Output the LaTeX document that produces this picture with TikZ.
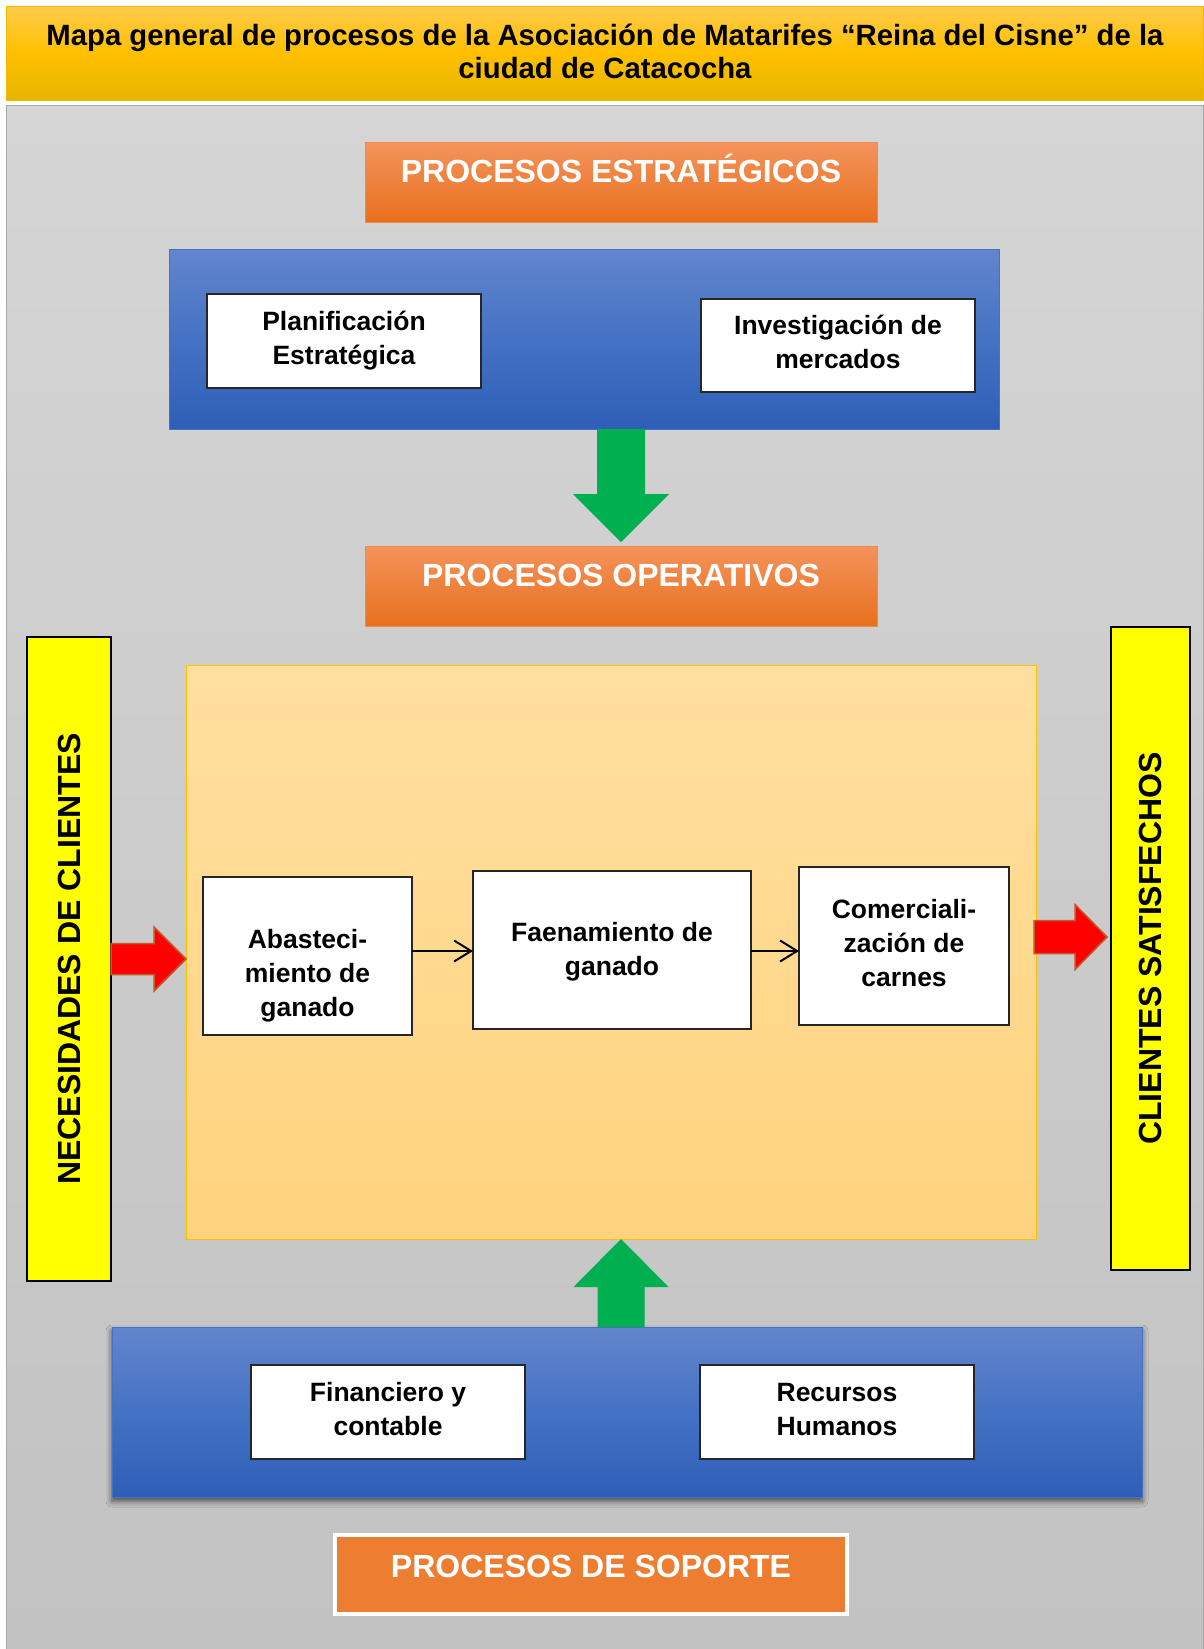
\documentclass[tikz,border=0pt]{standalone}
\usepackage{fontspec}
\setmainfont{Liberation Sans}
\usetikzlibrary{arrows.meta,calc,shadows.blur}

\definecolor{goldTop}{HTML}{FFCB4C}
\definecolor{goldMid}{HTML}{FFC000}
\definecolor{goldBot}{HTML}{E6B500}
\definecolor{goldLine}{HTML}{F2B800}
\definecolor{grayTop}{HTML}{D5D5D5}
\definecolor{grayBot}{HTML}{C2C2C2}
\definecolor{grayLine}{HTML}{A9A9A9}
\definecolor{orgTop}{HTML}{F4935C}
\definecolor{orgBot}{HTML}{E8701E}
\definecolor{orgLine}{HTML}{F08A4B}
\definecolor{orgFlat}{HTML}{ED7D31}
\definecolor{bluTop}{HTML}{6385CD}
\definecolor{bluMid}{HTML}{4472C4}
\definecolor{bluBot}{HTML}{2E5EB7}
\definecolor{opTop}{HTML}{FFDFA0}
\definecolor{opBot}{HTML}{FFD37E}
\definecolor{opLine}{HTML}{FFC000}
\definecolor{barYellow}{HTML}{FFFF00}
\definecolor{arrGreen}{HTML}{00B050}
\definecolor{arrRed}{HTML}{FF0000}
\definecolor{arrRedLine}{HTML}{C0592B}
\definecolor{boxLine}{HTML}{262626}

\begin{document}
\begin{tikzpicture}[x=1pt,y=-1pt,
  titleband/.style={anchor=north west, inner sep=0pt, outer sep=0pt,
    top color=goldTop, bottom color=goldBot, middle color=goldMid,
    draw=goldLine, line width=0.8pt},
  titletext/.style={font=\fontsize{29.3}{33}\selectfont\bfseries, align=center,
    inner sep=0pt},
  backpanel/.style={anchor=north west, inner sep=0pt, outer sep=0pt,
    top color=grayTop, bottom color=grayBot, draw=grayLine, line width=1pt},
  headerbox/.style={anchor=north west, inner sep=0pt, outer sep=0pt,
    top color=orgTop, bottom color=orgBot, draw=orgLine, line width=1pt},
  headertext/.style={text=white, font=\fontsize{32}{36}\selectfont\bfseries,
    inner sep=0pt, anchor=base},
  bluepanel/.style={anchor=north west, inner sep=0pt, outer sep=0pt,
    top color=bluTop, bottom color=bluBot, middle color=bluMid,
    draw=bluMid, line width=0.8pt},
  whitebox/.style={anchor=north west, inner sep=0pt, outer sep=0pt,
    fill=white, draw=boxLine, line width=1.3pt},
  boxtext/.style={font=\fontsize{26.5}{34}\selectfont\bfseries, align=center,
    inner sep=0pt},
  sidebar/.style={anchor=north west, inner sep=0pt, outer sep=0pt,
    fill=barYellow, draw=black, line width=1.2pt},
  sidetext/.style={rotate=90, font=\fontsize{32}{36}\selectfont\bfseries,
    inner sep=0pt},
  opzone/.style={anchor=north west, inner sep=0pt, outer sep=0pt,
    top color=opTop, bottom color=opBot, draw=opLine, line width=1pt},
  flow/.style={line width=1.7pt, -{Straight Barb[length=17pt,width=21pt,line width=2pt]}},
  greenarrow/.style={fill=arrGreen},
  redarrow/.style={fill=arrRed, draw=arrRedLine, line width=1.5pt, line join=miter}
]
\useasboundingbox (0,0) rectangle (1203,1649);
\fill[white] (0,0) rectangle (1203,1649);

% title band and grey panel
\node[titleband, minimum width=1197, minimum height=94] (title) at (6,6) {};
\node[titletext] (titletxt) at (605,51)
  {Mapa general de procesos de la Asociación de Matarifes “Reina del Cisne” de la\\ciudad de Catacocha};
\node[backpanel, minimum width=1197, minimum height=1545] (bg) at (6,105) {};

% strategic processes
\node[headerbox, minimum width=512, minimum height=80] (hdrS) at (365,142) {};
\node[headertext] (hdrStxt) at ($(hdrS.north)+(0,40)$) {PROCESOS ESTRATÉGICOS};
\node[bluepanel, minimum width=830, minimum height=180] (strat) at (169,249) {};
\node[whitebox, minimum width=274, minimum height=94] (plan) at (207,294) {};
\node[boxtext] (plantxt) at (plan.center) {Planificación\\Estratégica};
\node[whitebox, minimum width=274, minimum height=93] (inv) at (701,299) {};
\node[boxtext] (invtxt) at ($(inv.center)+(0,-4)$) {Investigación de\\mercados};

% operative processes
\node[headerbox, minimum width=512, minimum height=80] (hdrO) at (365,546) {};
\node[headertext] (hdrOtxt) at ($(hdrO.north)+(0,40)$) {PROCESOS OPERATIVOS};

% arrow from strategic to operative
\coordinate (gdS) at (strat.south -| hdrO.north);
\coordinate (gdT) at ($(hdrO.north)+(0,-4)$);
\fill[greenarrow] ($(gdS)+(-24,0)$) -- ($(gdS)+(24,0)$) -- ($(gdT)+(24,-48)$)
  -- ($(gdT)+(48,-48)$) -- (gdT) -- ($(gdT)+(-48,-48)$) -- ($(gdT)+(-24,-48)$) -- cycle;

\node[sidebar, minimum width=84, minimum height=644] (needs) at (27,637) {};
\node[sidetext] (needstxt) at (needs.center) {NECESIDADES DE CLIENTES};
\node[sidebar, minimum width=79, minimum height=643] (satisf) at (1111,627) {};
\node[sidetext] (satisftxt) at (satisf.center) {CLIENTES SATISFECHOS};

\node[opzone, minimum width=850, minimum height=574] (opbox) at (186,665) {};

\node[whitebox, minimum width=209, minimum height=158] (abas) at (203,877) {};
\node[boxtext] (abastxt) at ($(abas.center)+(0,20)$) {Abasteci-\\miento de\\ganado};
\node[whitebox, minimum width=278, minimum height=158] (faen) at (473,871) {};
\node[boxtext] (faentxt) at ($(faen.center)+(0,2)$) {Faenamiento de\\ganado};
\node[whitebox, minimum width=210, minimum height=158] (comer) at (799,867) {};
\node[boxtext] (comertxt) at ($(comer.center)+(0,-3)$) {Comerciali-\\zación de\\carnes};

\draw[flow] (abas.east |- 0,951) -- (faen.west |- 0,951);
\draw[flow] (faen.east |- 0,951) -- (comer.west |- 0,951);

% input and output arrows
\coordinate (rlS) at (needs.east);
\coordinate (rlT) at (needs.east -| opbox.west);
\draw[redarrow] ($(rlS)+(0,-15.5)$) -- ($(rlT)+(-32,-15.5)$) -- ($(rlT)+(-32,-32)$)
  -- (rlT) -- ($(rlT)+(-32,32)$) -- ($(rlT)+(-32,15.5)$) -- ($(rlS)+(0,15.5)$) -- cycle;
\coordinate (rrS) at ($(opbox.east)+(-2,-15)$);
\coordinate (rrT) at ($(rrS -| satisf.west)+(-4,0)$);
\draw[redarrow] ($(rrS)+(0,-16.5)$) -- ($(rrT)+(-32,-16.5)$) -- ($(rrT)+(-32,-32.5)$)
  -- (rrT) -- ($(rrT)+(-32,32.5)$) -- ($(rrT)+(-32,16.5)$) -- ($(rrS)+(0,16.5)$) -- cycle;

% support processes
\node[bluepanel, minimum width=1030, minimum height=170,
  blur shadow={shadow xshift=0pt, shadow yshift=-4pt, shadow blur radius=6pt, shadow opacity=65}]
  (supp) at (112,1327) {};
\node[whitebox, minimum width=274, minimum height=94] (fin) at (251,1365) {};
\node[boxtext] (fintxt) at ($(fin.center)+(0,-3)$) {Financiero y\\contable};
\node[whitebox, minimum width=274, minimum height=94] (rrhh) at (700,1365) {};
\node[boxtext] (rrhhtxt) at ($(rrhh.center)+(0,-3)$) {Recursos\\Humanos};

\coordinate (guS) at (hdrO.center |- supp.north);
\coordinate (guT) at (hdrO.center |- opbox.south);
\fill[greenarrow] ($(guS)+(-23.5,0)$) -- ($(guS)+(23.5,0)$) -- ($(guT)+(23.5,48)$)
  -- ($(guT)+(47.5,48)$) -- (guT) -- ($(guT)+(-47.5,48)$) -- ($(guT)+(-23.5,48)$) -- cycle;

\node[anchor=north west, inner sep=0pt, outer sep=0pt, fill=orgFlat, draw=white,
  line width=4pt, minimum width=512, minimum height=79] (hdrSp) at (335,1535) {};
\node[headertext] (hdrSptxt) at ($(hdrSp.north)+(0,42)$) {PROCESOS DE SOPORTE};
\end{tikzpicture}
\end{document}
